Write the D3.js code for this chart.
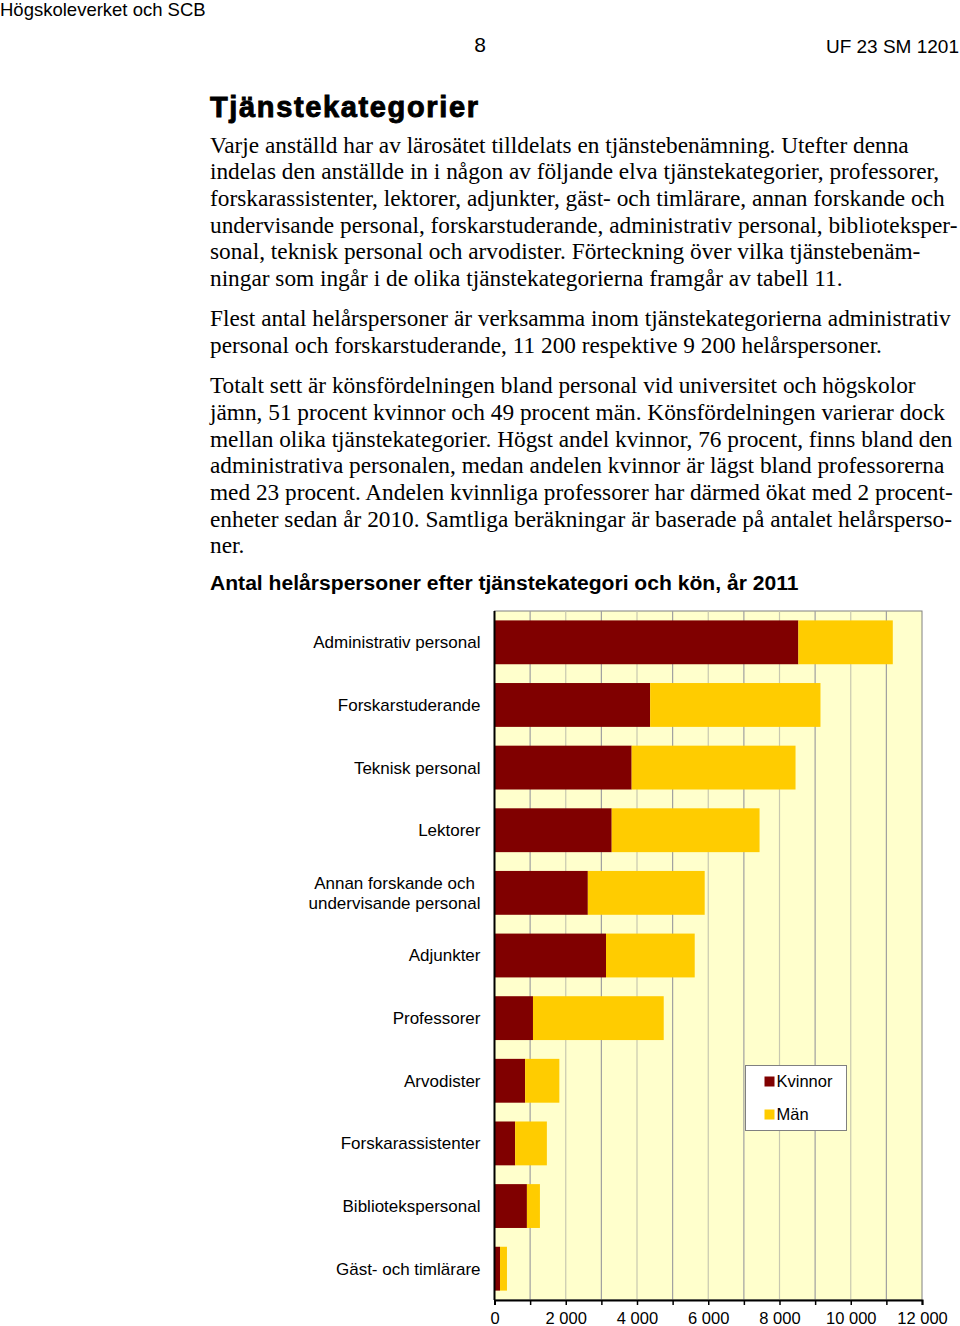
<!DOCTYPE html>
<html>
<head>
<meta charset="utf-8">
<script src="https://cdn.jsdelivr.net/npm/d3@7"></script>
<style>
body { margin:0; background:#fff; }
svg { display:block; }
</style>
</head>
<body>
<svg id="page" width="960" height="1326"></svg>
<script>
// data
var categories = ["Administrativ personal","Forskarstuderande","Teknisk personal","Lektorer",
  "Annan forskande och\nundervisande personal","Adjunkter","Professorer","Arvodister",
  "Forskarassistenter","Bibliotekspersonal","Gäst- och timlärare"];
var kvinnor = [8530, 4370, 3850, 3290, 2620, 3130, 1080, 860, 580, 910, 155];
var man     = [2650, 4780, 4600, 4150, 3280, 2490, 3670, 960, 890, 365, 195];
var seriesNames = ["Kvinnor","Män"];
var seriesColors = ["#800000","#ffcc00"];
var tickValues = [0,2000,4000,6000,8000,10000,12000];

var paragraphs = [
  ["Varje anställd har av lärosätet tilldelats en tjänstebenämning. Utefter denna",
   "indelas den anställde in i någon av följande elva tjänstekategorier, professorer,",
   "forskarassistenter, lektorer, adjunkter, gäst- och timlärare, annan forskande och",
   "undervisande personal, forskarstuderande, administrativ personal, biblioteksper-",
   "sonal, teknisk personal och arvodister. Förteckning över vilka tjänstebenäm-",
   "ningar som ingår i de olika tjänstekategorierna framgår av tabell 11."],
  ["Flest antal helårspersoner är verksamma inom tjänstekategorierna administrativ",
   "personal och forskarstuderande, 11 200 respektive 9 200 helårspersoner."],
  ["Totalt sett är könsfördelningen bland personal vid universitet och högskolor",
   "jämn, 51 procent kvinnor och 49 procent män. Könsfördelningen varierar dock",
   "mellan olika tjänstekategorier. Högst andel kvinnor, 76 procent, finns bland den",
   "administrativa personalen, medan andelen kvinnor är lägst bland professorerna",
   "med 23 procent. Andelen kvinnliga professorer har därmed ökat med 2 procent-",
   "enheter sedan år 2010. Samtliga beräkningar är baserade på antalet helårsperso-",
   "ner."]
];

var svg = d3.select("#page");
var sans = "Arial, 'Liberation Sans', sans-serif";
var serif = "'Times New Roman', 'Liberation Serif', serif";

// page header
svg.append("text").attr("x",0).attr("y",16).style("font-family",sans).style("font-size","18.5px").text("Högskoleverket och SCB");
svg.append("text").attr("x",480).attr("y",52).attr("text-anchor","middle").style("font-family",sans).style("font-size","21px").text("8");
svg.append("text").attr("x",959).attr("y",53).attr("text-anchor","end").style("font-family",sans).style("font-size","19px").text("UF 23 SM 1201");

svg.append("text").attr("x",210).attr("y",117).style("font-family",sans).style("font-size","29px")
  .style("font-weight","bold").attr("stroke","#000").attr("stroke-width",0.9)
  .attr("textLength",268).attr("lengthAdjust","spacing").text("Tjänstekategorier");

// body text
var y0 = 152.5, lh = 26.7, pgap = 13.5;
var yy = y0;
paragraphs.forEach(function(p){
  p.forEach(function(line){
    svg.append("text").attr("x",210).attr("y",yy).style("font-family",serif).style("font-size","23.3px").text(line);
    yy += lh;
  });
  yy += pgap;
});

svg.append("text").attr("x",210).attr("y",590).style("font-family",sans).style("font-size","21.1px")
  .style("font-weight","bold").text("Antal helårspersoner efter tjänstekategori och kön, år 2011");

// chart
var margin = {top:611, left:494.5};
var width = 922 - margin.left, height = 1300 - margin.top;
var g = svg.append("g").attr("transform","translate(" + margin.left + "," + margin.top + ")");

var xScale = d3.scaleLinear().domain([0,12000]).range([0,width]);
var yScale = d3.scaleBand().domain(categories).range([0,height]).paddingInner(0.3).paddingOuter(0.15);

g.append("rect").attr("width",width).attr("height",height).attr("fill","#ffffcc").attr("stroke","#808080");

// gridlines every 1000
g.selectAll(".grid").data(d3.range(1000,12000,1000)).enter().append("line")
  .attr("x1",function(d){ return xScale(d); }).attr("x2",function(d){ return xScale(d); })
  .attr("y1",0).attr("y2",height)
  .attr("stroke",function(d){ return (d/1000)%2 ? "#a0a0a0" : "#c8c8b0"; })
  .attr("stroke-width",1.2);

var stacked = categories.map(function(c,i){ return {cat:c, k:kvinnor[i], m:man[i]}; });
var stack = d3.stack().keys(["k","m"])(stacked);

g.selectAll(".series").data(stack).enter().append("g")
  .attr("fill",function(d,i){ return seriesColors[i]; })
  .selectAll("rect").data(function(d){ return d; }).enter().append("rect")
  .attr("x",function(d){ return xScale(d[0]); })
  .attr("width",function(d){ return xScale(d[1]) - xScale(d[0]); })
  .attr("y",function(d){ return yScale(d.data.cat); })
  .attr("height",yScale.bandwidth());

// x axis
var xAxis = d3.axisBottom(xScale).tickValues(d3.range(0,13000,1000)).tickSize(5)
  .tickFormat(function(d){ return tickValues.indexOf(d) >= 0 ? d3.format(",")(d).replace(/,/g," ") : ""; });
var ax = g.append("g").attr("transform","translate(0," + height + ")").call(xAxis);
ax.select(".domain").attr("stroke","#000").attr("stroke-width",2);
ax.selectAll(".tick line").attr("stroke","#000").attr("stroke-width",1.5);
ax.selectAll(".tick text").style("font-family",sans).style("font-size","16.5px").attr("fill","#000").attr("y",12);

// left axis line
g.append("line").attr("x1",0).attr("x2",0).attr("y1",0).attr("y2",height).attr("stroke","#000").attr("stroke-width",2);

// category labels
categories.forEach(function(c){
  var lines = c.split("\n");
  var cy = yScale(c) + yScale.bandwidth()/2;
  if(lines.length == 1){
    g.append("text").attr("x",-14).attr("y",cy).attr("dy","0.35em").attr("text-anchor","end")
      .style("font-family",sans).style("font-size","17px").text(c);
  } else {
    var t = g.append("text").attr("text-anchor","middle").style("font-family",sans).style("font-size","17px");
    lines.forEach(function(l,j){
      t.append("tspan").attr("x",-100).attr("y",cy + (j - (lines.length-1)/2)*20).attr("dy","0.35em").text(l);
    });
  }
});

// legend
var lg = svg.append("g").attr("transform","translate(745.5,1065.5)");
lg.append("rect").attr("width",101).attr("height",65).attr("fill","#fff").attr("stroke","#808080");
seriesNames.forEach(function(s,i){
  lg.append("rect").attr("x",19).attr("y",11 + i*33).attr("width",10).attr("height",10).attr("fill",seriesColors[i]);
  lg.append("text").attr("x",31).attr("y",16 + i*33).attr("dy","0.35em")
    .style("font-family",sans).style("font-size","16.5px").text(s);
});
</script>
</body>
</html>
